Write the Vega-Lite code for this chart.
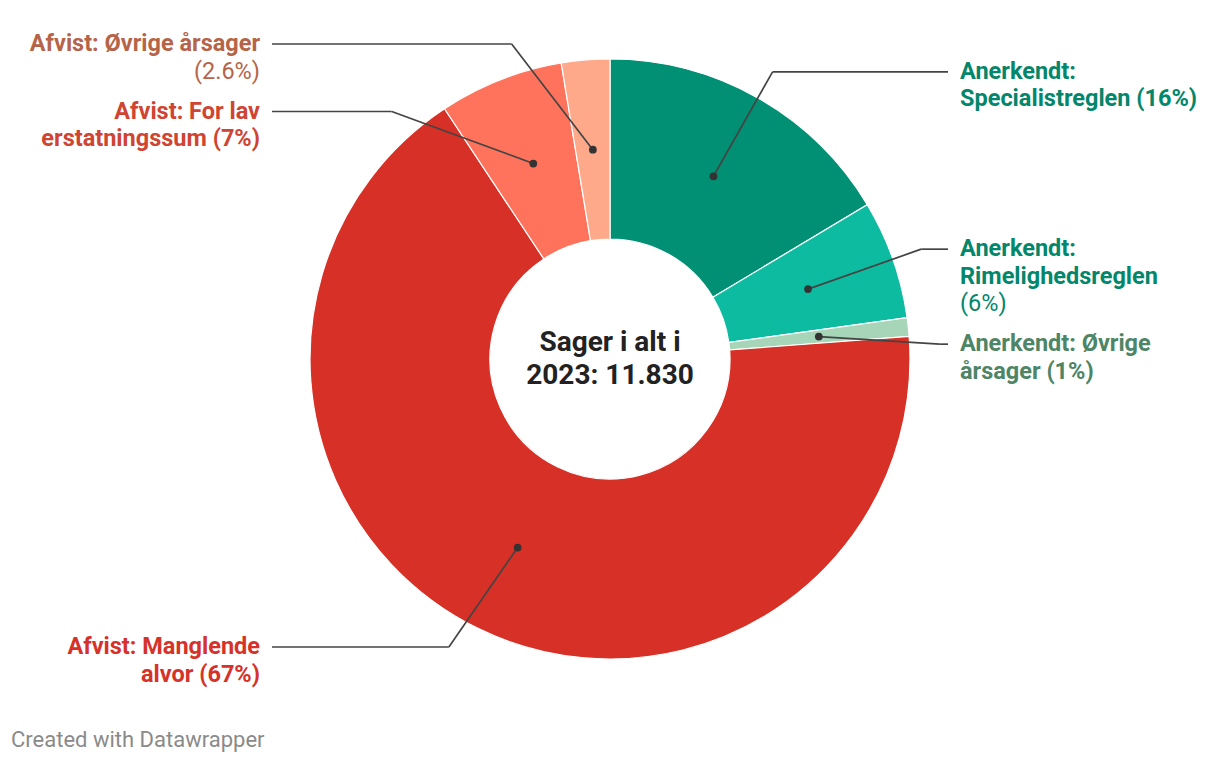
{
  "$schema": "https://vega.github.io/schema/vega-lite/v6.json",
  "width": 1220,
  "height": 718,
  "autosize": {"type": "none"},
  "padding": {"left": 0, "right": 0, "top": 0, "bottom": 48},
  "background": "white",
  "config": {"view": {"stroke": null}, "font": "Roboto"},
  "title": {
    "text": "Created with Datawrapper",
    "orient": "bottom",
    "anchor": "start",
    "frame": "group",
    "offset": 12,
    "dx": 11,
    "fontSize": 22,
    "font": "Roboto",
    "fontWeight": "normal",
    "color": "#8a8a8a",
    "baseline": "top"
  },
  "datasets": {
    "slices": [
      {"order": 1, "cat": "Anerkendt: Specialistreglen", "pct": 16.4, "bold": ["Anerkendt:", "Specialistreglen (16%)"], "light": ""},
      {"order": 2, "cat": "Anerkendt: Rimelighedsreglen", "pct": 6.4, "bold": ["Anerkendt:", "Rimelighedsreglen"], "light": "(6%)"},
      {"order": 3, "cat": "Anerkendt: Øvrige årsager", "pct": 1.0, "bold": ["Anerkendt: Øvrige", "årsager (1%)"], "light": ""},
      {"order": 4, "cat": "Afvist: Manglende alvor", "pct": 66.9, "bold": ["Afvist: Manglende", "alvor (67%)"], "light": ""},
      {"order": 5, "cat": "Afvist: For lav erstatningssum", "pct": 6.7, "bold": ["Afvist: For lav", "erstatningssum (7%)"], "light": ""},
      {"order": 6, "cat": "Afvist: Øvrige årsager", "pct": 2.6, "bold": ["Afvist: Øvrige årsager"], "light": "(2.6%)"}
    ]
  },
  "layer": [
    {
      "data": {"name": "slices"},
      "mark": {"type": "arc", "innerRadius": 120, "outerRadius": 300, "stroke": "white", "strokeWidth": 1.2},
      "encoding": {
        "theta": {"field": "pct", "type": "quantitative", "stack": true},
        "order": {"field": "order", "type": "quantitative"},
        "color": {
          "field": "cat",
          "type": "nominal",
          "legend": null,
          "scale": {
            "domain": ["Anerkendt: Specialistreglen", "Anerkendt: Rimelighedsreglen", "Anerkendt: Øvrige årsager", "Afvist: Manglende alvor", "Afvist: For lav erstatningssum", "Afvist: Øvrige årsager"],
            "range": ["#019074", "#0dbba0", "#a6d5b8", "#d73027", "#ff735c", "#ffa98b"]
          }
        }
      }
    },
    {
      "data": {"name": "slices"},
      "transform": [
        {"window": [{"op": "sum", "field": "pct", "as": "cum"}], "sort": [{"field": "order", "order": "ascending"}], "frame": [null, 0]},
        {"calculate": "(datum.cum - datum.pct / 2) / 100 * 2 * PI", "as": "a"},
        {"calculate": "210 * sin(datum.a)", "as": "px"},
        {"calculate": "210 * cos(datum.a)", "as": "py"},
        {"calculate": "sin(datum.a) >= 0 ? 1 : -1", "as": "side"},
        {"calculate": "min(315, max(-288, 330 * cos(datum.a)))", "as": "ly0"},
        {"calculate": "length(datum.bold) + (datum.light ? 1 : 0)", "as": "n"},
        {"window": [{"op": "lag", "field": "ly0", "as": "ply"}, {"op": "lag", "field": "n", "as": "pn"}], "groupby": ["side"], "sort": [{"field": "ly0", "order": "descending"}]},
        {"calculate": "datum.ply == null ? datum.ly0 : min(datum.ly0, datum.ply - datum.pn * 27.5 - 12.5)", "as": "ly"},
        {"calculate": "datum.ly - (datum.n - 1) * 27.5", "as": "lyl"},
        {"calculate": "datum.side * sqrt(330 * 330 - datum.ly * datum.ly)", "as": "ex"},
        {"calculate": "datum.side * 338", "as": "lx2"},
        {"calculate": "datum.side * 350", "as": "tx"}
      ],
      "encoding": {},
      "layer": [
        {
          "mark": {"type": "rule", "color": "#444444", "strokeWidth": 1.7},
          "encoding": {
            "x": {"field": "px", "type": "quantitative", "axis": null, "scale": {"domain": [-610, 610], "nice": false, "zero": false}},
            "y": {"field": "py", "type": "quantitative", "axis": null, "scale": {"domain": [-359, 359], "nice": false, "zero": false}},
            "x2": {"field": "ex"},
            "y2": {"field": "ly"}
          }
        },
        {
          "mark": {"type": "rule", "color": "#444444", "strokeWidth": 1.7},
          "encoding": {
            "x": {"field": "ex", "type": "quantitative"},
            "y": {"field": "ly", "type": "quantitative"},
            "x2": {"field": "lx2"}
          }
        },
        {
          "mark": {"type": "point", "filled": true, "size": 60, "color": "#333333", "opacity": 1},
          "encoding": {
            "x": {"field": "px", "type": "quantitative"},
            "y": {"field": "py", "type": "quantitative"}
          }
        },
        {
          "mark": {"type": "text", "fontSize": 23.5, "fontWeight": "bold", "font": "Roboto", "baseline": "middle", "lineHeight": 27.5, "align": {"expr": "datum.side > 0 ? 'left' : 'right'"}},
          "encoding": {
            "x": {"field": "tx", "type": "quantitative"},
            "y": {"field": "ly", "type": "quantitative"},
            "text": {"field": "bold"},
            "color": {
              "field": "cat",
              "type": "nominal",
              "legend": null,
              "scale": {
                "domain": ["Anerkendt: Specialistreglen", "Anerkendt: Rimelighedsreglen", "Anerkendt: Øvrige årsager", "Afvist: Manglende alvor", "Afvist: For lav erstatningssum", "Afvist: Øvrige årsager"],
                "range": ["#03866a", "#03866a", "#4d8566", "#d6322a", "#cf4432", "#b66449"]
              }
            }
          }
        },
        {
          "mark": {"type": "text", "fontSize": 23.5, "fontWeight": "normal", "font": "Roboto", "baseline": "middle", "align": {"expr": "datum.side > 0 ? 'left' : 'right'"}},
          "encoding": {
            "x": {"field": "tx", "type": "quantitative"},
            "y": {"field": "lyl", "type": "quantitative"},
            "text": {"field": "light"},
            "color": {"field": "cat", "type": "nominal", "legend": null}
          }
        }
      ]
    },
    {
      "data": {"values": [{"label": ["Sager i alt i", "2023: 11.830"]}]},
      "mark": {"type": "text", "fontSize": 28, "fontWeight": "bold", "font": "Roboto", "color": "#222222", "baseline": "middle", "align": "center", "lineHeight": 33, "dy": -16.5},
      "encoding": {"text": {"field": "label"}}
    }
  ],
  "resolve": {"scale": {"color": "independent"}}
}
